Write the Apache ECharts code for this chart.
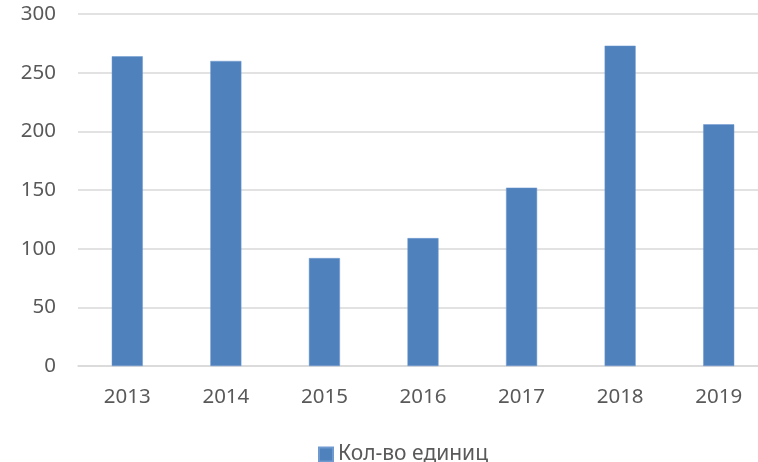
<!DOCTYPE html>
<html><head><meta charset="utf-8">
<script src="https://cdn.jsdelivr.net/npm/echarts@6/dist/echarts.min.js"></script>
<style>html,body{margin:0;padding:0;background:#fff}#c{width:758px;height:462px}</style>
</head><body><div id="c"></div>
<script>
const categories = ['2013','2014','2015','2016','2017','2018','2019'];
const values = [264, 260, 92, 109, 152, 273, 206];
const seriesName = 'Кол-во единиц';
const yTicks = {min: 0, max: 300, interval: 50};

const chart = echarts.init(document.getElementById('c'), null, {renderer: 'canvas'});
const font = 'Noto Sans';
chart.setOption({
  animation: false,
  grid: {left: 78, right: -10, top: 14, bottom: 96, containLabel: false, outerBoundsMode: 'none'},
  legend: {
    top: 439, left: 313,
    itemWidth: 14, itemHeight: 14, itemGap: 10,
    icon: 'rect',
    textStyle: {fontFamily: font, fontSize: 21, color: '#595959'},
    data: [seriesName]
  },
  xAxis: {
    type: 'category', data: categories,
    axisLine: {lineStyle: {color: '#d9d9d9', width: 1.5}},
    axisTick: {show: false},
    axisLabel: {fontFamily: font, fontSize: 20.5, color: '#595959', margin: 21}
  },
  yAxis: {
    type: 'value', min: yTicks.min, max: yTicks.max, interval: yTicks.interval,
    axisLine: {show: false}, axisTick: {show: false},
    splitLine: {lineStyle: {color: '#d9d9d9', width: 1.5}},
    axisLabel: {fontFamily: font, fontSize: 20.5, color: '#595959', margin: 22}
  },
  series: [{
    name: seriesName, type: 'bar', data: values, barWidth: '31.5%',
    itemStyle: {color: '#4f81bd', borderColor: '#6f9ad0', borderWidth: 0.5}
  }]
});
</script></body></html>
